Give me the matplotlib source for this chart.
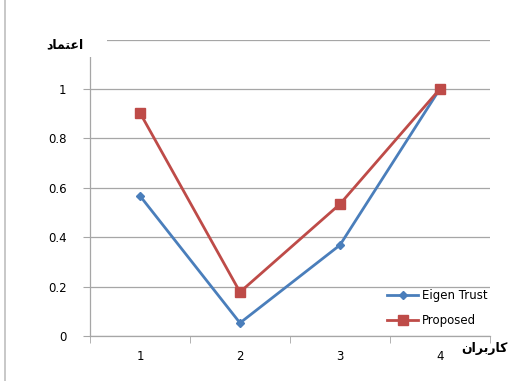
import matplotlib.pyplot as plt
from matplotlib.lines import Line2D
from matplotlib.patches import Rectangle

users = [1, 2, 3, 4]
eigen_trust = [0.567, 0.053, 0.368, 1.0]
proposed = [0.903, 0.178, 0.534, 1.0]
y_ticks = [0, 0.2, 0.4, 0.6, 0.8, 1]

# Persian labels written as presentation forms in visual order
y_label = "\uFEA9\uFE8E\uFEE4\uFE98\uFECB\uFE8D"      # اعتماد
x_label = "\uFEE5\uFE8D\uFEAE\uFE91\uFEAD\uFE8E\uFB90"  # کاربران

blue = "#4A7EBB"
red = "#BE4B48"
grey = "#A6A6A6"

fig = plt.figure(figsize=(5.15, 3.81), dpi=100)
ax = fig.add_axes([0.175, 0.118, 0.776, 0.778])

ax.plot(users, eigen_trust, color=blue, lw=2, marker="D", ms=4.5, label="Eigen Trust", zorder=3)
ax.plot(users, proposed, color=red, lw=2, marker="s", ms=6.5, label="Proposed", zorder=3)

ax.set_xlim(0.5, 4.5)
ax.set_ylim(0, 1.2)
ax.set_yticks(y_ticks + [1.2])
ax.set_yticklabels([f"{v:g}" for v in y_ticks] + [""])
ax.set_xticks(users)
ax.set_xticks([0.5, 1.5, 2.5, 3.5, 4.5], minor=True)
ax.tick_params(axis="x", which="major", length=0, pad=10, labelsize=8.5)
ax.tick_params(axis="x", which="minor", length=5, color=grey, direction="out")
ax.tick_params(axis="y", length=5, color=grey, direction="out", pad=12, labelsize=8.5)
ax.yaxis.grid(True, color=grey, lw=0.9)
ax.set_axisbelow(True)
for side in ["top", "right"]:
    ax.spines[side].set_visible(False)
for side in ["left", "bottom"]:
    ax.spines[side].set_color(grey)
    ax.spines[side].set_linewidth(0.9)

leg = ax.legend(loc="lower right", bbox_to_anchor=(1.02, -0.005), frameon=False,
                fontsize=8.5, handlelength=2.6, labelspacing=1.0, handletextpad=0.3)

# white patch behind the y label hides the top of the axis and gridline
fig.add_artist(Rectangle((0.078, 0.850), 0.13, 0.071, transform=fig.transFigure,
                         facecolor="white", edgecolor="none", zorder=4))
fig.text(0.126, 0.882, y_label, ha="center", va="center", fontsize=9, fontweight="bold",
         family="DejaVu Sans", zorder=5)
fig.text(0.985, 0.085, x_label, ha="right", va="center", fontsize=9, fontweight="bold",
         family="DejaVu Sans")

fig.add_artist(Line2D([0.009, 0.009], [0, 1], transform=fig.transFigure, color="#BFBFBF", lw=1.2))

fig.savefig("out.png", dpi=100)
